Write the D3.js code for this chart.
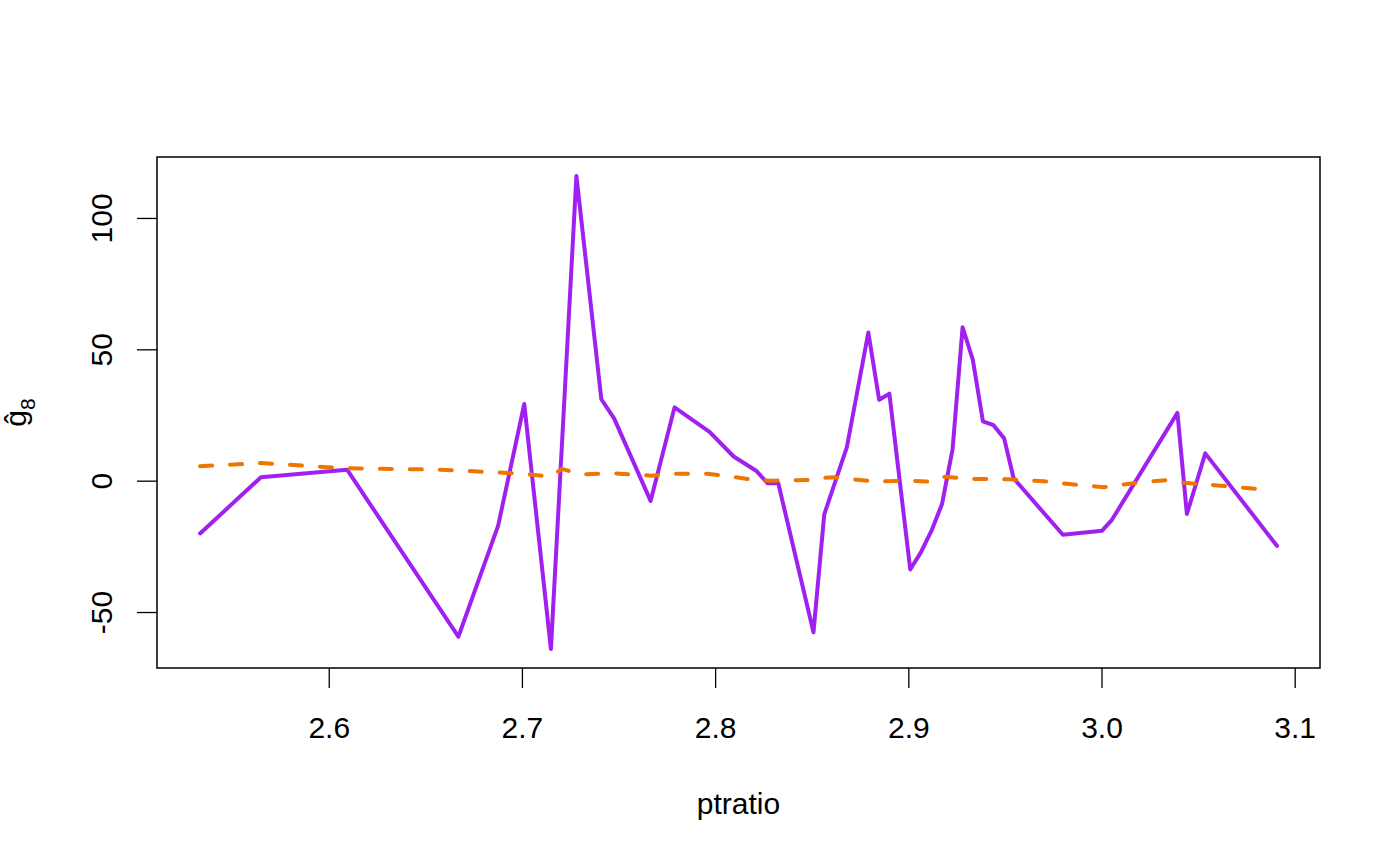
<!DOCTYPE html>
<html>
<head>
<meta charset="utf-8">
<script src="https://cdn.jsdelivr.net/npm/d3@7"></script>
<style>
  html, body { margin: 0; padding: 0; background: #fff; }
  text { font-family: "Liberation Sans", Arial, sans-serif; }
</style>
</head>
<body>
<div id="chart"></div>
<script>
// raw estimate (solid purple)
var ptratio = [2.5334, 2.5649, 2.6095, 2.6671, 2.6877, 2.7012, 2.7150, 2.7282, 2.7411, 2.7477,
  2.7666, 2.7790, 2.7971, 2.8096, 2.8212, 2.8272, 2.8327, 2.8509, 2.8565, 2.8682,
  2.8793, 2.8849, 2.8902, 2.9010, 2.9065, 2.9122, 2.9174, 2.9229, 2.9281, 2.9334,
  2.9386, 2.9441, 2.9496, 2.9545, 2.9800, 3.0002, 3.0054, 3.0393, 3.0442, 3.0537, 3.0908];
var gHat = [-20.1, 1.3, 4.2, -59.4, -17.1, 29.2, -64.1, 116.0, 31.0, 23.7,
  -7.7, 27.9, 18.6, 9.2, 3.8, -1.0, -1.0, -57.7, -12.8, 12.8,
  56.4, 30.8, 33.1, -33.8, -27.3, -18.7, -9.0, 11.9, 58.4, 46.0,
  22.6, 21.1, 16.1, 0.9, -20.6, -19.1, -14.9, 25.8, -12.7, 10.4, -24.8];

// smoothed fit (dashed orange)
var smoothX = [2.5334, 2.5649, 2.6095, 2.6580, 2.7012, 2.7150, 2.7207, 2.7300, 2.7480, 2.7670,
  2.7790, 2.7960, 2.8048, 2.8203, 2.8289, 2.8496, 2.8530, 2.8616, 2.8700, 2.8823,
  2.9012, 2.9110, 2.9191, 2.9300, 2.9520, 2.9700, 2.9847, 3.0010, 3.0183, 3.0347,
  3.0425, 3.0582, 3.0753, 3.0839];
var smoothY = [5.5, 6.7, 4.7, 4.2, 2.6, 1.5, 4.5, 2.4, 2.8, 1.9,
  2.6, 2.6, 1.9, 0.3, 0.0, 0.3, 1.0, 1.3, 0.6, -0.3,
  0.0, -0.4, 1.5, 0.7, 0.5, -0.2, -1.4, -2.5, -0.8, 0.3,
  -0.8, -1.7, -2.8, -3.4];

var xTicks = [2.6, 2.7, 2.8, 2.9, 3.0, 3.1];
var yTicks = [-50, 0, 50, 100];

var width = 1400, height = 865;
var margin = {top: 157, right: 80, bottom: 197, left: 157};
var fontSize = 30;

var svg = d3.select('#chart').append('svg')
  .attr('width', width)
  .attr('height', height);

// R style: pad the data range by 4% on each side
function padded(values) {
  var ext = d3.extent(values);
  var pad = (ext[1] - ext[0]) * 0.04;
  return [ext[0] - pad, ext[1] + pad];
}

var x = d3.scaleLinear()
  .domain(padded(ptratio.concat(smoothX)))
  .range([margin.left, width - margin.right]);

var y = d3.scaleLinear()
  .domain(padded(gHat.concat(smoothY)))
  .range([height - margin.bottom, margin.top]);

var xAxis = svg.append('g')
  .attr('transform', 'translate(0,' + (height - margin.bottom) + ')')
  .call(d3.axisBottom(x).tickValues(xTicks).tickSize(20).tickPadding(29)
    .tickFormat(d3.format('.1f')));

// plain hyphen for negatives, like R
var yAxis = svg.append('g')
  .attr('transform', 'translate(' + margin.left + ',0)')
  .call(d3.axisLeft(y).tickValues(yTicks).tickSize(20)
    .tickFormat(function (d) { return String(d); }));

[xAxis, yAxis].forEach(function (ax) {
  ax.select('.domain').remove();
  ax.selectAll('line').attr('stroke', '#000').attr('stroke-width', 1.3);
  ax.selectAll('text').attr('fill', '#000').style('font-size', fontSize + 'px');
});

yAxis.selectAll('.tick text')
  .attr('x', null).attr('dy', null)
  .attr('text-anchor', 'middle')
  .attr('transform', 'translate(-45,0) rotate(-90)');

xAxis.selectAll('.tick text').attr('dy', '0.71em');

// box
svg.append('rect')
  .attr('x', margin.left)
  .attr('y', margin.top)
  .attr('width', width - margin.left - margin.right)
  .attr('height', height - margin.top - margin.bottom)
  .attr('fill', 'none')
  .attr('stroke', '#000')
  .attr('stroke-width', 1.5);

var line = d3.line()
  .x(function (d) { return x(d[0]); })
  .y(function (d) { return y(d[1]); });

svg.append('path')
  .datum(d3.zip(ptratio, gHat))
  .attr('d', line)
  .attr('fill', 'none')
  .attr('stroke', '#A020F0')
  .attr('stroke-width', 4)
  .attr('stroke-linejoin', 'round')
  .attr('stroke-linecap', 'round');

svg.append('path')
  .datum(d3.zip(smoothX, smoothY))
  .attr('d', line)
  .attr('fill', 'none')
  .attr('stroke', '#EE7600')
  .attr('stroke-width', 4)
  .attr('stroke-dasharray', '12,18')
  .attr('stroke-linejoin', 'round')
  .attr('stroke-linecap', 'round');

// axis titles
svg.append('text')
  .attr('x', (margin.left + width - margin.right) / 2)
  .attr('y', 814)
  .attr('text-anchor', 'middle')
  .style('font-size', fontSize + 'px')
  .text('ptratio');

var yMid = (margin.top + height - margin.bottom) / 2;
var ylab = svg.append('text')
  .attr('transform', 'translate(26,' + yMid + ') rotate(-90)')
  .attr('text-anchor', 'middle')
  .style('font-size', fontSize + 'px');
ylab.append('tspan').text('ĝ');
ylab.append('tspan')
  .attr('dy', 9)
  .style('font-size', '21px')
  .text('8');
</script>
</body>
</html>
